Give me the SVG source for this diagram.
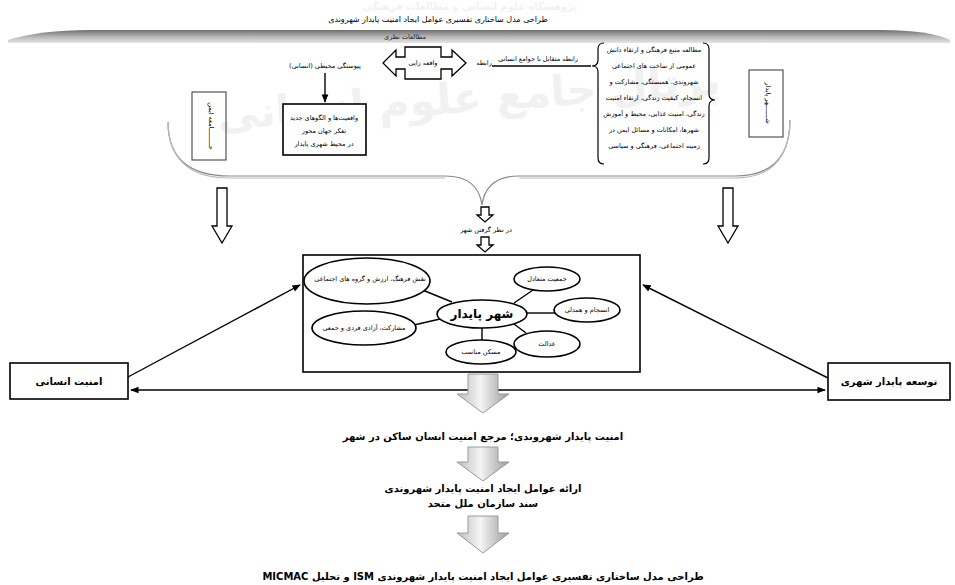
<svg xmlns="http://www.w3.org/2000/svg" width="955" height="585" viewBox="0 0 955 585">
<style>
text{font-family:"DejaVu Sans","Noto Sans",sans-serif;fill:#000;text-anchor:middle;direction:rtl;unicode-bidi:embed}
.t7{font-size:6.5px}
.t8{font-size:8px}
.b10{font-size:10px;font-weight:bold}
.wm{fill:#f1f1f1;font-weight:bold}
.box{fill:#fff;stroke:#000;stroke-width:1.6}
.thin{fill:none;stroke:#333;stroke-width:1}
.ell{fill:#fff;stroke:#000;stroke-width:1.6}
.ln{stroke:#000;stroke-width:1.4;fill:none}
.hollow{fill:#fff;stroke:#000;stroke-width:1.3}
.gray{fill:url(#ga);stroke:#9a9a9a;stroke-width:1}
.brace{fill:none;stroke:#8a8a8a;stroke-width:1.2}
</style>
<defs>
<linearGradient id="bar" x1="0" y1="0" x2="0" y2="1">
<stop offset="0" stop-color="#6e6e6e"/><stop offset="0.5" stop-color="#b4b4b4"/><stop offset="1" stop-color="#e6e6e6"/>
</linearGradient>
<linearGradient id="ga" x1="0" y1="0" x2="1" y2="0">
<stop offset="0" stop-color="#bdbdbd"/><stop offset="0.45" stop-color="#f4f4f4"/><stop offset="1" stop-color="#9c9c9c"/>
</linearGradient>
<marker id="ah" viewBox="0 0 10 10" refX="9" refY="5" markerWidth="6" markerHeight="6" orient="auto-start-reverse">
<path d="M0,1 L10,5 L0,9 Z" fill="#000"/>
</marker>
</defs>
<rect width="955" height="585" fill="#fff"/>
<!-- watermark -->
<text class="wm" x="470" y="10" style="font-size:10px">پژوهشگاه علوم انسانی و مطالعات فرهنگی</text>
<text class="wm" x="470" y="112" style="font-size:42px" transform="rotate(-4 470 112)">پرتال جامع علوم انسانی</text>

<!-- title and bar -->
<text class="t8" x="438" y="22">طراحی مدل ساختاری تفسیری عوامل ایجاد امنیت پایدار شهروندی</text>
<path d="M8,40 Q40,30 90,30 L880,30 Q930,30 950,40 L950,43 L8,43 Z" fill="url(#bar)"/>
<text class="t7" x="405" y="39" style="fill:#222">مطالعات نظری</text>

<g id="node-left-vertical">
<rect class="thin" x="192" y="92" width="34" height="68"/>
<text class="t7" transform="translate(209 126) rotate(90)">جـــــــــامعه ایمن</text>
</g>
<g id="node-right-vertical">
<rect class="thin" x="749" y="70" width="34" height="67"/>
<text class="t7" transform="translate(766 103) rotate(90)">شـــــــهر پایدار</text>
</g>

<g id="node-label-env">
<text class="t7" x="325" y="68">پیوستگی محیطی (انسانی)</text>
</g>
<g id="node-reality">
<rect class="box" x="283" y="104" width="83" height="51"/>
<text class="t7" x="324" y="120">واقعیت‌ها و الگوهای جدید</text>
<text class="t7" x="324" y="133">تفکر جهان محور</text>
<text class="t7" x="324" y="146">در محیط شهری پایدار</text>
</g>
<g id="node-double-arrow">
<path class="hollow" d="M383,63 L396,50 L396,57 L405,57 L405,47 L441,47 L441,57 L452,57 L452,50 L466,63 L452,76 L452,69 L441,69 L441,79 L405,79 L405,69 L396,69 L396,76 Z"/>
<text class="t7" x="423" y="65">واقعه زایی</text>
</g>
<g id="node-relation">
<text class="t7" x="484" y="65">رابطه</text>
<text class="t7" x="538" y="61">رابطه متقابل با جوامع انسانی</text>
</g>
<g id="node-right-text">
<path class="ln" d="M604,43 Q598,43 598,49 L598,60 Q598,66 592,66 Q598,66 598,72 L598,158 Q598,164 604,164" style="stroke-width:1.2"/>
<path class="ln" d="M703,43 Q709,43 709,49 L709,94 Q709,100 715,100 Q709,100 709,106 L709,158 Q709,164 703,164" style="stroke-width:1.2"/>
<text class="t7" x="654" y="52">مطالعه منبع فرهنگی و ارتقاء دانش</text>
<text class="t7" x="654" y="68">عمومی از ساخت های اجتماعی</text>
<text class="t7" x="654" y="84">شهروندی، همبستگی، مشارکت و</text>
<text class="t7" x="654" y="100">انسجام، کیفیت زندگی، ارتقاء امنیت</text>
<text class="t7" x="654" y="116">زندگی، امنیت غذایی، محیط و آموزش</text>
<text class="t7" x="654" y="132">شهرها، امکانات و مسائل ایمن در</text>
<text class="t7" x="654" y="148">زمینه اجتماعی، فرهنگی و سیاسی</text>
</g>

<g id="node-city-label">
<text class="t7" x="486" y="232">در نظر گرفتن شهر</text>
</g>

<g id="node-center">
<rect class="box" x="303" y="255" width="337" height="117"/>
<g class="ln">
<line x1="452" y1="302" x2="420" y2="289"/>
<line x1="440" y1="319" x2="414" y2="325"/>
<line x1="482" y1="328" x2="482" y2="341"/>
<line x1="514" y1="303" x2="533" y2="290"/>
<line x1="527" y1="313" x2="555" y2="313"/>
<line x1="514" y1="324" x2="526" y2="333"/>
</g>
<ellipse class="ell" cx="367" cy="281" rx="63" ry="23"/>
<text class="t7" x="370" y="281">نقش فرهنگ، ارزش و گروه های اجتماعی</text>
<ellipse class="ell" cx="364" cy="328" rx="52" ry="17"/>
<text class="t7" x="364" y="330">مشارکت، آزادی فردی و جمعی</text>
<ellipse class="ell" cx="482" cy="314" rx="45" ry="14"/>
<text x="482" y="318" style="font-size:12px;font-weight:bold">شهر پایدار</text>
<ellipse class="ell" cx="481" cy="352" rx="35" ry="12"/>
<text class="t7" x="481" y="354">مسکن مناسب</text>
<ellipse class="ell" cx="547" cy="279" rx="33" ry="12"/>
<text class="t7" x="547" y="281">جمعیت متعادل</text>
<ellipse class="ell" cx="587" cy="310" rx="33" ry="12"/>
<text class="t7" x="587" y="312">انسجام و همدلی</text>
<ellipse class="ell" cx="547" cy="344" rx="33" ry="13"/>
<text class="t7" x="547" y="346">عدالت</text>
</g>

<g id="node-human-security">
<rect class="box" x="10" y="363" width="118" height="36"/>
<text class="b10" x="69" y="385">امنیت انسانی</text>
</g>
<g id="node-urban-dev">
<rect class="box" x="828" y="363" width="122" height="37"/>
<text class="b10" x="889" y="385">توسعه پایدار شهری</text>
</g>

<g id="node-text1"><text class="b10" x="483" y="440">امنیت پایدار شهروندی؛ مرجع امنیت انسان ساکن در شهر</text></g>
<g id="node-text2">
<text class="b10" x="483" y="492">ارائه عوامل ایجاد امنیت پایدار شهروندی</text>
<text class="b10" x="483" y="507">سند سازمان ملل متحد</text>
</g>
<g id="node-text3"><text class="b10" x="483" y="580">طراحی مدل ساختاری تفسیری عوامل ایجاد امنیت پایدار شهروندی ISM و تحلیل MICMAC</text></g>

<g id="connectors">
<path class="brace" d="M168,122 Q168,176 230,176 L445,176 Q478,176 482,205 Q486,176 519,176 L735,176 Q790,176 790,120"/>
<path class="brace" d="M168,124 Q170,178 230,178 L445,178 M519,178 L735,178 Q788,178 790,122" style="stroke:#bbb"/>
<line class="ln" x1="325" y1="73" x2="325" y2="102" marker-end="url(#ah)"/>
<line class="ln" x1="492" y1="66" x2="591" y2="66"/>
<path class="hollow" d="M217,188 L227,188 L227,226 L232,226 L222,243 L212,226 L217,226 Z"/>
<path class="hollow" d="M723,188 L733,188 L733,226 L738,226 L728,243 L718,226 L723,226 Z"/>
<path class="hollow" d="M481,207 L489,207 L489,215 L493,215 L485,222 L477,215 L481,215 Z"/>
<path class="hollow" d="M481,237 L489,237 L489,245 L493,245 L485,252 L477,245 L481,245 Z"/>
<line class="ln" x1="128" y1="377" x2="300" y2="285" marker-end="url(#ah)"/>
<line class="ln" x1="828" y1="378" x2="643" y2="285" marker-end="url(#ah)"/>
<line class="ln" x1="131" y1="390" x2="825" y2="390" marker-start="url(#ah)" marker-end="url(#ah)"/>
<path class="gray" d="M468,374 L498,374 L498,394 L509,394 L483,413 L457,394 L468,394 Z"/>
<path class="gray" d="M468,447 L498,447 L498,462 L509,462 L483,481 L457,462 L468,462 Z"/>
<path class="gray" d="M468,516 L498,516 L498,533 L509,533 L483,553 L457,533 L468,533 Z"/>
</g>
</svg>
